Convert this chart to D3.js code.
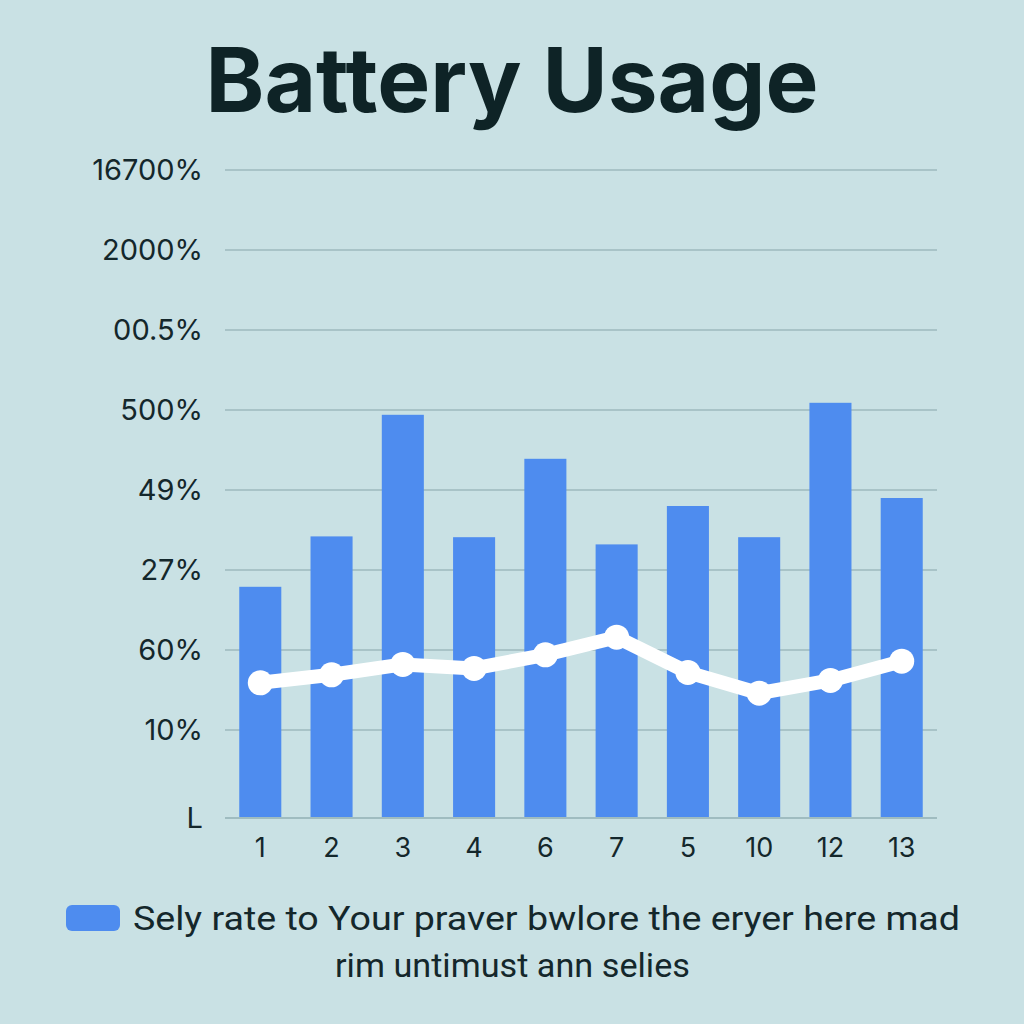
<!DOCTYPE html>
<html>
<head>
<meta charset="utf-8">
<script src="https://cdn.jsdelivr.net/npm/d3@7"></script>
<style>
  html, body { margin: 0; padding: 0; background: #c9e1e4; }
  svg { display: block; }
</style>
</head>
<body>
<script>
// ---- data ----
const categories = ["1", "2", "3", "4", "6", "7", "5", "10", "12", "13"];
const barValues = [289, 352, 504, 351, 449, 342, 390, 351, 519, 400];
const lineValues = [169, 179, 192, 187, 204, 226, 182, 156, 172, 196];
const tickValues = [0, 110, 210, 310, 410, 510, 610, 710, 810];
const tickLabels = ["L", "10%", "60%", "27%", "49%", "500%", "00.5%", "2000%", "16700%"];
const titleText = "Battery Usage";
const legendLines = ["Sely rate to Your praver bwlore the eryer here mad", "rim untimust ann selies"];

const W = 1024, H = 1024;
const margin = { left: 225, right: 87, top: 170, bottom: 206 };
const svg = d3.select("body").append("svg").attr("width", W).attr("height", H);
svg.append("rect").attr("width", W).attr("height", H).attr("fill", "#c9e1e4");

const x = d3.scaleBand().domain(categories).range([margin.left, W - margin.right]).paddingInner(0.41).paddingOuter(0.2);
const y = d3.scaleLinear().domain([0, 810]).range([H - margin.bottom, margin.top]);

// title
svg.append("text").attr("x", 512).attr("y", 112).attr("text-anchor", "middle")
  .attr("font-family", "Inter, 'Noto Sans', sans-serif").attr("font-weight", 700)
  .attr("font-size", 89).attr("fill", "#0e2326").text(titleText);

// gridlines
const grid = svg.append("g");
tickValues.forEach((v, i) => {
  grid.append("line").attr("x1", margin.left).attr("x2", W - margin.right)
    .attr("y1", y(v)).attr("y2", y(v))
    .attr("stroke", i === 0 ? "#9fbcc0" : "#a8c3c7").attr("stroke-width", 2);
});

// y labels
const yAxis = d3.axisLeft(y).tickValues(tickValues).tickFormat((d, i) => tickLabels[i]).tickSize(0).tickPadding(20);
const yg = svg.append("g").attr("transform", `translate(${margin.left},0)`).call(yAxis);
yg.select(".domain").remove();
yg.selectAll("text").attr("font-family", "Inter, 'Noto Sans', sans-serif").attr("font-size", 29)
  .attr("fill", "#14272b").attr("dx", -2);

// bars
svg.append("g").selectAll("rect").data(barValues).join("rect")
  .attr("x", (d, i) => x(categories[i])).attr("width", x.bandwidth())
  .attr("y", d => y(d)).attr("height", d => y(0) - y(d) - 1)
  .attr("fill", "#4e8cef");

// x labels
const xAxis = d3.axisBottom(x).tickSize(0).tickPadding(20);
const xg = svg.append("g").attr("transform", `translate(0,${y(0)})`).call(xAxis);
xg.select(".domain").remove();
xg.selectAll("text").attr("font-family", "Inter, 'Noto Sans', sans-serif").attr("font-size", 27).attr("fill", "#14272b");

// line
const line = d3.line().x((d, i) => x(categories[i]) + x.bandwidth() / 2).y(d => y(d));
svg.append("path").datum(lineValues).attr("d", line).attr("fill", "none")
  .attr("stroke", "#ffffff").attr("stroke-width", 14).attr("stroke-linejoin", "round");
svg.append("g").selectAll("circle").data(lineValues).join("circle")
  .attr("cx", (d, i) => x(categories[i]) + x.bandwidth() / 2).attr("cy", d => y(d))
  .attr("r", 12.5).attr("fill", "#ffffff");

// legend
svg.append("rect").attr("x", 66).attr("y", 905).attr("width", 54).attr("height", 26).attr("rx", 6)
  .attr("fill", "#4e8cef");
svg.append("text").attr("x", 133).attr("y", 930)
  .attr("font-family", "Roboto, sans-serif").attr("font-size", 34)
  .attr("fill", "#14272b").attr("textLength", 827).attr("lengthAdjust", "spacingAndGlyphs").text(legendLines[0]);
svg.append("text").attr("x", 335).attr("y", 977)
  .attr("font-family", "Roboto, sans-serif").attr("font-size", 34)
  .attr("fill", "#14272b").attr("textLength", 355).attr("lengthAdjust", "spacingAndGlyphs").text(legendLines[1]);
</script>
</body>
</html>
